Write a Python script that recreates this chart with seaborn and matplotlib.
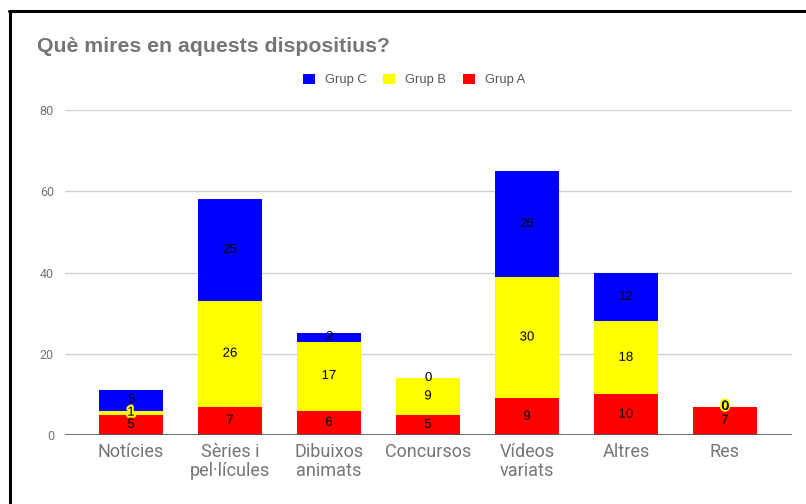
import numpy as np
import seaborn as sns
import matplotlib.pyplot as plt
import matplotlib.patheffects as pe
from matplotlib.lines import Line2D

# Data
categories = ['Notícies', 'Sèries i\npel·lícules', 'Dibuixos\nanimats', 'Concursos',
              'Vídeos\nvariats', 'Altres', 'Res']
grup_a = [5, 7, 6, 5, 9, 10, 7]
grup_b = [1, 26, 17, 9, 30, 18, 0]
grup_c = [5, 25, 2, 0, 26, 12, 0]

red, yellow, blue = '#ff0000', '#ffff00', '#0000ff'
grey = '#757575'
arial = ['Liberation Sans', 'DejaVu Sans']

sns.set_style('white')
plt.rcParams['font.family'] = ['Roboto', 'DejaVu Sans']

a = np.array(grup_a)
ab = a + np.array(grup_b)
abc = ab + np.array(grup_c)

fig = plt.figure(figsize=(8.06, 5.04), dpi=100)
ax = fig.add_axes([65 / 806, 69 / 504, (792 - 65) / 806, (435 - 110) / 504])

# stacked bars: draw totals first, then overlay lower parts
w = 0.646
sns.barplot(x=categories, y=abc, color=blue, saturation=1, width=w, linewidth=0, label='Grup C', ax=ax)
sns.barplot(x=categories, y=ab, color=yellow, saturation=1, width=w, linewidth=0, label='Grup B', ax=ax)
sns.barplot(x=categories, y=a, color=red, saturation=1, width=w, linewidth=0, label='Grup A', ax=ax)

# segment labels
series = [(np.zeros(len(a)), a, grup_a, red), (a, ab, grup_b, yellow), (ab, abc, grup_c, None)]
for lo, hi, vals, col in series:
    for i, v in enumerate(vals):
        y = (lo[i] + hi[i]) / 2
        effects = [pe.withStroke(linewidth=3, foreground=col)] if col else []
        ax.text(i, y, str(v), ha='center', va='center', fontsize=9.5, color='black',
                family=arial, path_effects=effects, zorder=5)

ax.set_xlim(-0.667, 6.677)
ax.set_ylim(0, 80)
ax.set_yticks([0, 20, 40, 60, 80])
ax.grid(axis='y', color='#d0d0d0', linewidth=1)
ax.set_axisbelow(True)
ax.axhline(0, color='#555555', linewidth=1.2, zorder=4)
for s in ax.spines.values():
    s.set_visible(False)
ax.tick_params(axis='x', length=0, labelsize=13, labelcolor=grey, pad=6)
ax.tick_params(axis='y', length=0, labelsize=9, labelcolor=grey, pad=8)
for t in ax.get_xticklabels():
    t.set_linespacing(1.05)
ax.set_xlabel('')
ax.set_ylabel('')

fig.text(37 / 806, 1 - 46 / 504, 'Què mires en aquests dispositius?', fontsize=15.3,
         fontweight='bold', color=grey, family=arial, va='center')

ax.legend(loc='center', bbox_to_anchor=(414 / 806, 1 - 80 / 504), bbox_transform=fig.transFigure,
          ncol=3, frameon=False, labelcolor='#555555', handlelength=0.9,
          handleheight=0.9, handletextpad=0.8, columnspacing=1.3,
          prop={'family': arial, 'size': 9.3})

# black frame on left and top only
fig.add_artist(Line2D([10 / 806, 10 / 806], [0, 1 - 11 / 504], transform=fig.transFigure,
                      color='black', linewidth=2.2))
fig.add_artist(Line2D([9 / 806, 1], [1 - 11 / 504, 1 - 11 / 504], transform=fig.transFigure,
                      color='black', linewidth=2.2))

fig.savefig('out.png', dpi=100)
